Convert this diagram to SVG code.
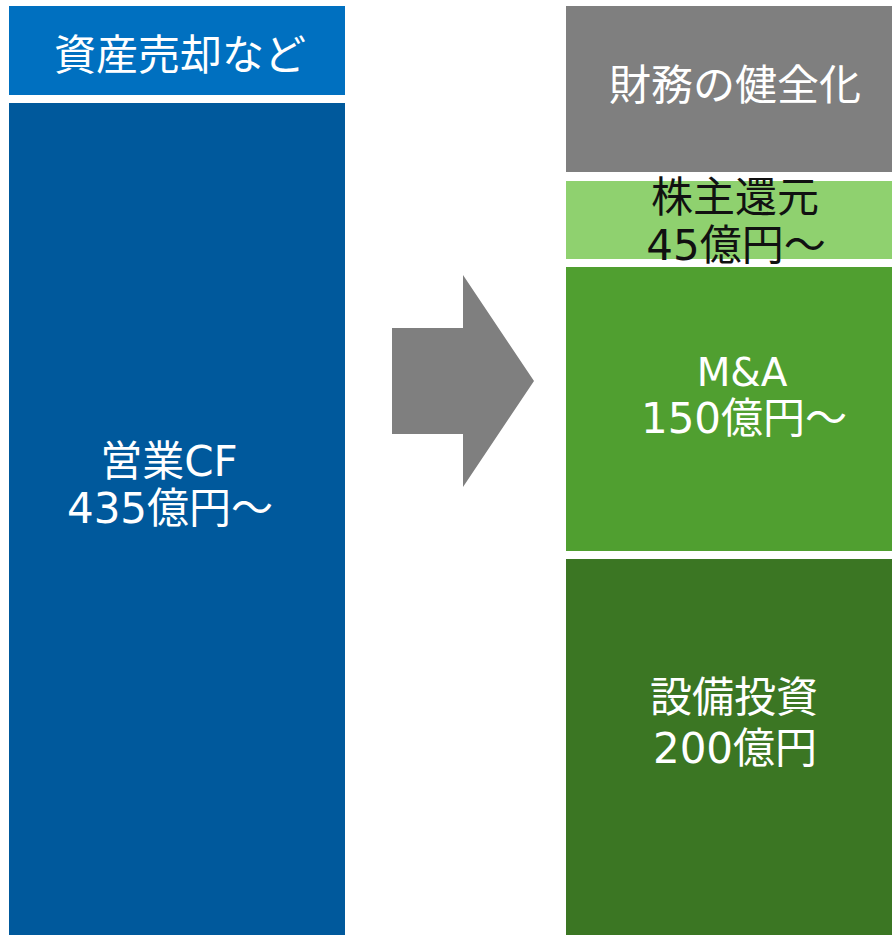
<svg xmlns="http://www.w3.org/2000/svg" width="892" height="935" viewBox="0 0 892 935">
<style>
text{font-family:"DejaVu Sans","Noto Sans CJK JP",sans-serif;font-size:42px;text-anchor:middle;fill:#fff}
.dark{fill:#111}
.lat{font-size:39px}
</style>
<rect width="892" height="935" fill="#fff"/>
<g id="asset-sale">
<rect x="9" y="6" width="336" height="89" fill="#0070c0"/>
<text x="180" y="70">資産売却など</text>
</g>
<g id="operating-cf">
<rect x="9" y="103" width="336" height="832" fill="#00599c"/>
<text x="169" y="476">営業CF</text>
<text x="170" y="523">435億円～</text>
</g>
<g id="connectors">
<polygon points="392,328 463,328 463,275 534,381 463,487 463,434 392,434" fill="#7f7f7f"/>
</g>
<g id="financial-health">
<rect x="566" y="6" width="326" height="166" fill="#7f7f7f"/>
<text x="735" y="100">財務の健全化</text>
</g>
<g id="shareholder-return">
<rect x="566" y="181" width="326" height="78" fill="#8fd16f"/>
<text class="dark" x="735" y="212">株主還元</text>
<text class="dark" x="736" y="260">45億円～</text>
</g>
<g id="ma">
<rect x="566" y="267" width="326" height="284" fill="#509f30"/>
<text class="lat" x="742" y="386">M&amp;A</text>
<text x="744" y="433">150億円～</text>
</g>
<g id="capex">
<rect x="566" y="559" width="326" height="376" fill="#3b7623"/>
<text x="734" y="712">設備投資</text>
<text x="735" y="763">200億円</text>
</g>
</svg>
